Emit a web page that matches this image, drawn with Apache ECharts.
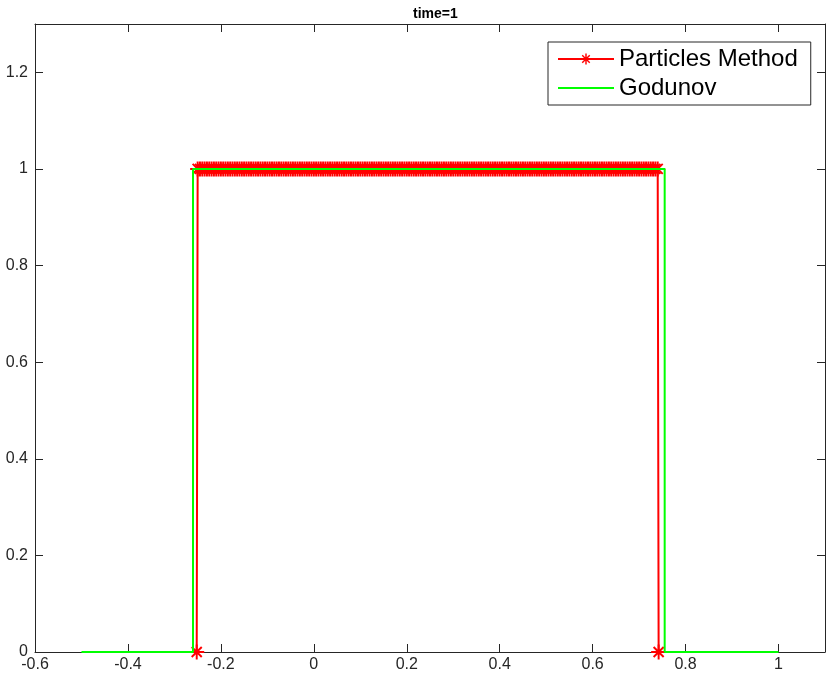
<!DOCTYPE html>
<html>
<head>
<meta charset="utf-8">
<script src="https://cdn.jsdelivr.net/npm/echarts@6/dist/echarts.min.js"></script>
<style>html,body{margin:0;padding:0;background:#fff}#c{width:828px;height:679px}</style>
</head>
<body>
<div id="c"></div>
<script>
// ---- data ----
var titleText = 'time=1';
var seriesNames = ['Particles Method', 'Godunov'];
var xTicks = [-0.6, -0.4, -0.2, 0, 0.2, 0.4, 0.6, 0.8, 1];
var yTicks = [0, 0.2, 0.4, 0.6, 0.8, 1, 1.2];
// particle positions on the plateau (u = 1)
var particlesX = [
  -0.25, -0.245, -0.24, -0.235, -0.23, -0.225, -0.22, -0.215, -0.21, -0.205,
  -0.2, -0.195, -0.19, -0.185, -0.18, -0.175, -0.17, -0.165, -0.16, -0.155,
  -0.15, -0.145, -0.14, -0.135, -0.13, -0.125, -0.12, -0.115, -0.11, -0.105,
  -0.1, -0.095, -0.09, -0.085, -0.08, -0.075, -0.07, -0.065, -0.06, -0.055,
  -0.05, -0.045, -0.04, -0.035, -0.03, -0.025, -0.02, -0.015, -0.01, -0.005,
  0, 0.005, 0.01, 0.015, 0.02, 0.025, 0.03, 0.035, 0.04, 0.045,
  0.05, 0.055, 0.06, 0.065, 0.07, 0.075, 0.08, 0.085, 0.09, 0.095,
  0.1, 0.105, 0.11, 0.115, 0.12, 0.125, 0.13, 0.135, 0.14, 0.145,
  0.15, 0.155, 0.16, 0.165, 0.17, 0.175, 0.18, 0.185, 0.19, 0.195,
  0.2, 0.205, 0.21, 0.215, 0.22, 0.225, 0.23, 0.235, 0.24, 0.245,
  0.25, 0.255, 0.26, 0.265, 0.27, 0.275, 0.28, 0.285, 0.29, 0.295,
  0.3, 0.305, 0.31, 0.315, 0.32, 0.325, 0.33, 0.335, 0.34, 0.345,
  0.35, 0.355, 0.36, 0.365, 0.37, 0.375, 0.38, 0.385, 0.39, 0.395,
  0.4, 0.405, 0.41, 0.415, 0.42, 0.425, 0.43, 0.435, 0.44, 0.445,
  0.45, 0.455, 0.46, 0.465, 0.47, 0.475, 0.48, 0.485, 0.49, 0.495,
  0.5, 0.505, 0.51, 0.515, 0.52, 0.525, 0.53, 0.535, 0.54, 0.545,
  0.55, 0.555, 0.56, 0.565, 0.57, 0.575, 0.58, 0.585, 0.59, 0.595,
  0.6, 0.605, 0.61, 0.615, 0.62, 0.625, 0.63, 0.635, 0.64, 0.645,
  0.65, 0.655, 0.66, 0.665, 0.67, 0.675, 0.68, 0.685, 0.69, 0.695,
  0.7, 0.705, 0.71, 0.715, 0.72, 0.725, 0.73, 0.735, 0.74
];
var particlesPlateau = 1;
// particles at the edges (u = 0)
var particlesEdgeX = [-0.252, 0.742];
var particlesEdgeY = [0, 0];
// Godunov solution
var godunovX = [-0.5, -0.26, -0.26, 0.755, 0.755, 1.0];
var godunovY = [0, 0, 1, 1, 0, 0];

// ---- build ----
var particleData = [[particlesEdgeX[0], particlesEdgeY[0]]];
for (var i = 0; i < particlesX.length; i++) particleData.push([particlesX[i], particlesPlateau]);
particleData.push([particlesEdgeX[1], particlesEdgeY[1]]);
var godunovData = godunovX.map(function (x, i) { return [x, godunovY[i]]; });

var star = 'path://M8.7 0L11.3 0L11.3 20L8.7 20Z M0 8.7L20 8.7L20 11.3L0 11.3Z M2.4 4.2L4.2 2.4L17.6 15.8L15.8 17.6Z M15.8 2.4L17.6 4.2L4.2 17.6L2.4 15.8Z';

function xFmt(v) {
  var r = Math.round(v * 10) / 10;
  return xTicks.indexOf(r) >= 0 ? String(r) : '';
}
function yFmt(v) {
  var r = Math.round(v * 10) / 10;
  return yTicks.indexOf(r) >= 0 ? String(r) : '';
}

var axisCol = '#262626';
var font = 'Liberation Sans, Arial, Helvetica, sans-serif';
var chart = echarts.init(document.getElementById('c'), null, {renderer: 'canvas'});
chart.setOption({
  animation: false,
  backgroundColor: '#fff',
  title: {
    text: titleText, left: 408, top: 2,
    textStyle: {fontFamily: font, fontSize: 14, fontWeight: 'bold', color: '#000'}
  },
  legend: {
    orient: 'vertical', left: 548, top: 42,
    padding: [5, 13, 5, 9], itemGap: 5, itemWidth: 56, itemHeight: 14,
    borderColor: '#262626', borderWidth: 1, backgroundColor: '#fff', borderRadius: 0,
    textStyle: {fontFamily: font, fontSize: 24, color: '#000'},
    data: [
      {name: seriesNames[0]},
      {name: seriesNames[1], itemStyle: {color: 'rgba(0,0,0,0)', borderWidth: 0}}
    ]
  },
  grid: {left: 35, right: 1, top: 24, bottom: 27, containLabel: false},
  xAxis: [{
    type: 'value', min: -0.6, max: 1.1, interval: 0.2,
    axisLine: {onZero: false, lineStyle: {color: axisCol, width: 1}},
    axisTick: {inside: true, length: 8, lineStyle: {color: axisCol}},
    axisLabel: {formatter: xFmt, fontFamily: font, fontSize: 16, color: '#262626', margin: 5},
    splitLine: {show: false}
  }, {
    type: 'value', position: 'top', min: -0.6, max: 1.1, interval: 0.2,
    axisLine: {onZero: false, lineStyle: {color: axisCol, width: 1}},
    axisTick: {inside: true, length: 8, lineStyle: {color: axisCol}},
    axisLabel: {show: false}, splitLine: {show: false}
  }],
  yAxis: [{
    type: 'value', min: 0, max: 1.3, interval: 0.2,
    axisLine: {onZero: false, lineStyle: {color: axisCol, width: 1}},
    axisTick: {inside: true, length: 8, lineStyle: {color: axisCol}},
    axisLabel: {formatter: yFmt, fontFamily: font, fontSize: 16, color: '#262626', margin: 7},
    splitLine: {show: false}
  }, {
    type: 'value', position: 'right', min: 0, max: 1.3, interval: 0.2,
    axisLine: {onZero: false, lineStyle: {color: axisCol, width: 1}},
    axisTick: {inside: true, length: 8, lineStyle: {color: axisCol}},
    axisLabel: {show: false}, splitLine: {show: false}
  }],
  series: [{
    name: seriesNames[0], type: 'line', data: particleData,
    symbol: star, symbolSize: 15, showAllSymbol: true,
    itemStyle: {color: '#ff0000'},
    lineStyle: {color: '#ff0000', width: 2},
    emphasis: {disabled: true}, z: 2
  }, {
    name: seriesNames[1], type: 'line', data: godunovData,
    symbol: 'none', showSymbol: false,
    itemStyle: {color: '#00ff00'},
    lineStyle: {color: '#00ff00', width: 2},
    emphasis: {disabled: true}, z: 3
  }]
});
</script>
</body>
</html>
